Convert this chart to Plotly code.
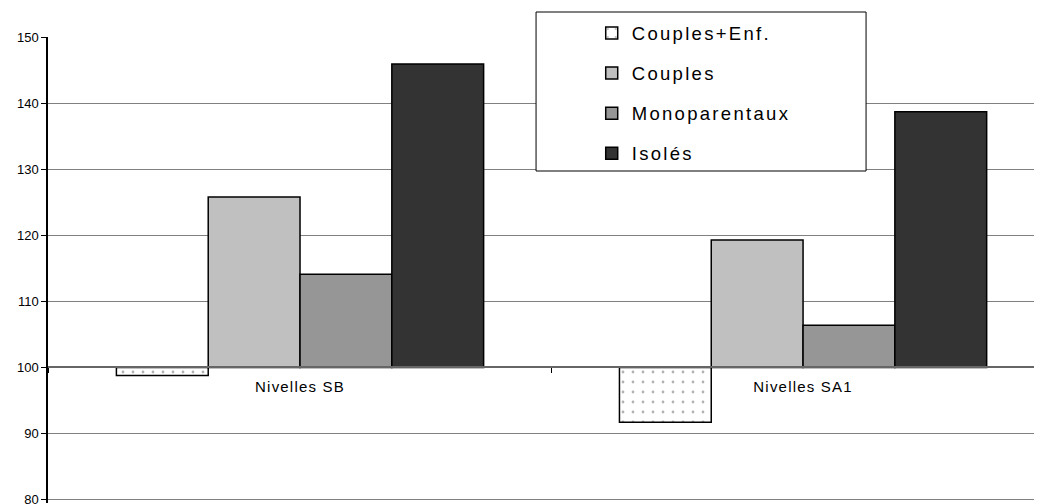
import plotly.graph_objects as go

categories = ["Nivelles SB", "Nivelles SA1"]
series_names = ["Couples+Enf.", "Couples", "Monoparentaux", "Isolés"]
couples_enf = [98.8, 91.7]
couples = [125.8, 119.3]
monoparentaux = [114.1, 106.4]
isoles = [145.9, 138.7]
base_value = 100
y_ticks = [80, 90, 100, 110, 120, 130, 140, 150]

series_values = [couples_enf, couples, monoparentaux, isoles]
colors = ["#ffffff", "#c0c0c0", "#969696", "#333333"]

y_min, y_max = 79.5, 150


def spaced(text, px):
    return f'<span style="letter-spacing:{px}px">{text}</span>'


fig = go.Figure()
for i, (name, vals, col) in enumerate(zip(series_names, series_values, colors)):
    marker = dict(color=col, line=dict(color="#000000", width=1.5))
    if i == 0:
        marker["pattern"] = dict(shape=".", fgcolor="#666666", bgcolor="#ffffff",
                                 size=10, solidity=0.06)
    fig.add_trace(go.Bar(
        name=spaced(name, 2.3), x=categories, y=[v - base_value for v in vals],
        base=[base_value] * len(vals), marker=marker, legendgroup=name,
    ))

# page body has an 8px margin: figure placed at (8, 8)
plot_h = 466
fig.update_layout(
    width=1034, height=496,
    margin=dict(l=40, r=0, t=29, b=496 - 29 - plot_h),
    paper_bgcolor="white", plot_bgcolor="white",
    barmode="group", bargap=0.27, bargroupgap=0,
    font=dict(family="Arial, Liberation Sans, sans-serif", color="#000000"),
    showlegend=True,
    legend=dict(
        x=0.547, y=1 + 22.5 / plot_h, xanchor="left", yanchor="top",
        bgcolor="rgba(0,0,0,0)", borderwidth=0,
        font=dict(size=18.5), tracegroupgap=13, traceorder="grouped",
    ),
    shapes=[dict(type="rect", xref="paper", yref="paper", layer="above",
                 x0=0.491, x1=0.823,
                 y0=(503 - 171) / plot_h, y1=(503 - 12) / plot_h,
                 fillcolor="white", line=dict(color="#000000", width=1))],
)
fig.update_yaxes(
    range=[y_min, y_max], tickvals=y_ticks, ticks="outside", ticklen=5,
    tickcolor="#000000", showline=True, linecolor="#000000", linewidth=1.5,
    showgrid=True, gridcolor="#808080", gridwidth=1.2, zeroline=False,
    tickfont=dict(size=13), ticklabeloverflow="allow", automargin=False,
)
fig.update_xaxes(
    type="category", range=[-0.501, 1.475],
    tickmode="array", tickvals=categories,
    ticktext=[spaced(c, 1.2) for c in categories],
    anchor="free", position=(base_value - y_min) / (y_max - y_min),
    showline=True, linecolor="#666666", linewidth=1.5,
    ticks="outside", tickson="boundaries", ticklen=5, tickcolor="#000000",
    ticklabelstandoff=6, automargin=False,
    tickfont=dict(size=15), showgrid=False,
)
fig.write_html("out.html")
